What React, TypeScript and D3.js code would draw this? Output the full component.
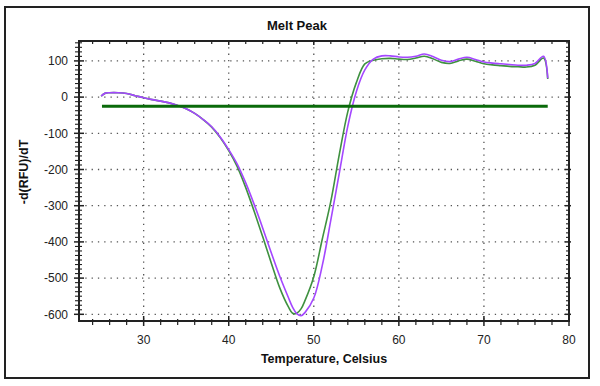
import React from 'react';
import * as d3 from 'd3';

// temperature (Celsius) for every read
const temps = [
  25.0, 25.5, 26, 27, 28, 29, 30, 31, 32, 33, 34, 35, 36, 37, 38, 39, 40, 41, 42, 43, 44, 45, 46, 47,
  47.5, 48, 48.5, 49, 50, 51, 52, 53, 54, 55, 56, 57, 58, 59, 60, 61, 62, 63, 64, 65, 66, 67, 68, 69,
  70, 71, 72, 73, 74, 75, 76, 77, 77.5,
];

// -d(RFU)/dT, green trace
const wellGreen = [
  3, 11, 12, 12, 10, 4, -2, -7, -11, -16, -23, -32, -45, -62, -83, -112, -148, -192, -250, -316, -386,
  -458, -527, -579, -597, -597, -585, -560, -496, -392, -288, -158, -40, 40, 92, 102, 106, 107, 105,
  104, 108, 113, 106, 96, 93, 100, 105, 99, 92, 89, 87, 85, 84, 83, 88, 108, 50,
];

// -d(RFU)/dT, purple trace
const wellPurple = [
  3, 11, 12, 12, 10, 4, -2, -7, -11, -16, -23, -32, -45, -62, -82, -110, -145, -185, -237, -297, -362,
  -430, -495, -553, -580, -598, -604, -594, -555, -465, -340, -210, -80, 15, 75, 105, 114, 114, 111,
  110, 113, 119, 112, 102, 98, 105, 110, 104, 97, 94, 92, 90, 88, 88, 93, 113, 52,
];

const thresholdValue = -25;
const thresholdSpan = [25.1, 77.5];

const xTickLabels = [30, 40, 50, 60, 70, 80];
const yTickLabels = [100, 0, -100, -200, -300, -400, -500, -600];

const W = 600;
const H = 386;
const plot = { left: 79, right: 569, top: 41, bottom: 321 };
const FONT = '"Liberation Sans", Arial, sans-serif';

export default function App() {
  const x = d3.scaleLinear().domain([22.4, 80]).range([plot.left, plot.right]);
  const y = d3.scaleLinear().domain([-618.5, 155]).range([plot.bottom, plot.top]);

  const xMinor = d3.range(24, 80.01, 2).filter(v => v % 10 !== 0);
  const yMinor = d3.range(-600, 155, 12.5).filter(v => v % 100 !== 0);

  const line = d3.line<number>()
    .x((_, i) => x(temps[i]))
    .y(d => y(d))
    .curve(d3.curveCatmullRom.alpha(0.5));

  const grid = '#555';
  const axisColor = '#222';

  return (
    <svg width={W} height={H} style={{ position: 'fixed', left: 0, top: 0, background: '#fff' }}>
      <rect x={5} y={7} width={584} height={371} fill="#fff" stroke="#222" strokeWidth={2} />

      {/* dotted grid */}
      {xTickLabels.filter(v => v < 80).map(v => (
        <line key={'gx' + v} x1={x(v)} x2={x(v)} y1={plot.top} y2={plot.bottom}
          stroke={grid} strokeWidth={1.3} strokeDasharray="1.3 5" />
      ))}
      {yTickLabels.map(v => (
        <line key={'gy' + v} x1={plot.left} x2={plot.right} y1={y(v)} y2={y(v)}
          stroke={grid} strokeWidth={1.3} strokeDasharray="1.3 5" />
      ))}

      {/* traces */}
      <path d={line(wellGreen) || ''} fill="none" stroke="#3f9140" strokeWidth={1.6} />
      <path d={line(wellPurple) || ''} fill="none" stroke="#a447ff" strokeWidth={1.6} />
      <line x1={x(thresholdSpan[0])} x2={x(thresholdSpan[1])} y1={y(thresholdValue)} y2={y(thresholdValue)}
        stroke="#0a6a0a" strokeWidth={3} />

      {/* frame */}
      <rect x={plot.left} y={plot.top} width={plot.right - plot.left} height={plot.bottom - plot.top}
        fill="none" stroke={axisColor} strokeWidth={2} />

      {/* bottom & top ticks */}
      {xTickLabels.map(v => (
        <g key={'xt' + v}>
          <line x1={x(v)} x2={x(v)} y1={plot.bottom - 5} y2={plot.bottom + 5} stroke={axisColor} strokeWidth={1.5} />
          <line x1={x(v)} x2={x(v)} y1={plot.top} y2={plot.top + 4} stroke={axisColor} strokeWidth={1.5} />
          <text x={x(v)} y={344} textAnchor="middle" fontFamily={FONT} fontSize={12} fill="#222">{v}</text>
        </g>
      ))}
      {xMinor.map(v => (
        <g key={'xm' + v}>
          <line x1={x(v)} x2={x(v)} y1={plot.bottom - 2} y2={plot.bottom + 4} stroke={axisColor} strokeWidth={1.2} />
          <line x1={x(v)} x2={x(v)} y1={plot.top} y2={plot.top + 3} stroke={axisColor} strokeWidth={1.2} />
        </g>
      ))}

      {/* left & right ticks */}
      {yTickLabels.map(v => (
        <g key={'yt' + v}>
          <line x1={plot.left - 5} x2={plot.left + 5} y1={y(v)} y2={y(v)} stroke={axisColor} strokeWidth={1.5} />
          <line x1={plot.right - 4} x2={plot.right + 2} y1={y(v)} y2={y(v)} stroke={axisColor} strokeWidth={1.5} />
          <text x={68} y={y(v)} dy="0.35em" textAnchor="end" fontFamily={FONT} fontSize={12} fill="#222">{v}</text>
        </g>
      ))}
      {yMinor.map(v => (
        <g key={'ym' + v}>
          <line x1={plot.left - 4} x2={plot.left + 3} y1={y(v)} y2={y(v)} stroke={axisColor} strokeWidth={1.1} />
          <line x1={plot.right - 3} x2={plot.right + 1} y1={y(v)} y2={y(v)} stroke={axisColor} strokeWidth={1.1} />
        </g>
      ))}

      {/* titles */}
      <text x={297} y={29.5} textAnchor="middle" fontFamily={FONT} fontSize={13} fontWeight="bold" fill="#111">
        Melt Peak
      </text>
      <text x={(plot.left + plot.right) / 2} y={363} textAnchor="middle" fontFamily={FONT} fontSize={12.5}
        fontWeight="bold" fill="#111">
        Temperature, Celsius
      </text>
      <text transform={`translate(28,172) rotate(-90)`} textAnchor="middle" fontFamily={FONT} fontSize={12.5}
        fontWeight="bold" fill="#111">
        -d(RFU)/dT
      </text>
    </svg>
  );
}
